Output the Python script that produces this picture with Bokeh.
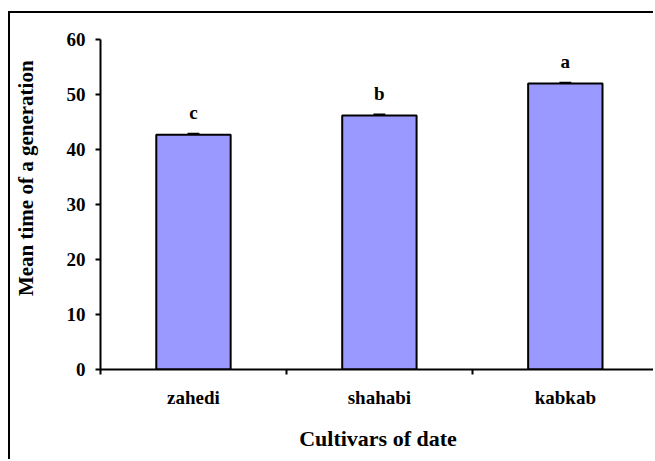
from bokeh.plotting import figure
from bokeh.models import Range1d, FixedTicker, ColumnDataSource, Whisker
from bokeh.core.properties import value
from bokeh.embed import file_html
from bokeh.resources import INLINE

# Mean generation time per date cultivar
cultivars = ["zahedi", "shahabi", "kabkab"]
mean_time = [42.7, 46.2, 52.0]
std_err = [0.15, 0.15, 0.15]
letters = ["c", "b", "a"]
y_ticks = [0, 10, 20, 30, 40, 50, 60]

FONT = "Liberation Serif"
TICK_SIZE = "19px"
TITLE_SIZE = "22px"

xs = [i + 0.5 for i in range(len(cultivars))]
src = ColumnDataSource(dict(
    x=xs,
    top=mean_time,
    upper=[m + s for m, s in zip(mean_time, std_err)],
    lower=[m - s for m, s in zip(mean_time, std_err)],
    letter=letters,
))

p = figure(
    width=645, height=448,
    x_range=Range1d(0, 2.985), y_range=Range1d(0, 60),
    output_backend="svg", toolbar_location=None,
    min_border_left=90, min_border_top=26, min_border_bottom=92, min_border_right=0,
)
p.styles = {"border-left": "2px solid black", "border-top": "2px solid black",
            "margin-left": "8px", "margin-top": "11px"}
p.outline_line_color = None
p.xgrid.visible = False
p.ygrid.visible = False

p.vbar(x="x", top="top", width=0.4, source=src, fill_color="#9999FF",
       line_color="black", line_width=2)

p.add_layout(Whisker(source=src, base="x", upper="upper", lower="lower",
                     line_color="black", line_width=2,
                     upper_head=None, lower_head=None))
p.segment(x0=[x - 0.032 for x in xs], x1=[x + 0.032 for x in xs],
          y0=src.data["upper"], y1=src.data["upper"], line_color="black", line_width=2)

# significance letters above each bar
p.text(x="x", y="upper", text="letter", source=src, text_align="center",
       text_baseline="alphabetic", y_offset=-21, text_font=value(FONT),
       text_font_style="bold", text_font_size=TICK_SIZE, text_color="black")

# x axis: category names centred, tick marks on category boundaries
p.xaxis.ticker = FixedTicker(ticks=xs, minor_ticks=[0, 1, 2, 3])
p.xaxis.major_label_overrides = {x: c for x, c in zip(xs, cultivars)}
p.xaxis.major_tick_out = 0
p.xaxis.major_tick_in = 0
p.xaxis.minor_tick_out = 5
p.xaxis.minor_tick_in = 0
p.xaxis.minor_tick_line_color = "black"
p.xaxis.minor_tick_line_width = 2
p.xaxis.major_label_standoff = 12
p.xaxis.axis_label = "Cultivars of date"
p.xaxis.axis_label_standoff = 15
p.xaxis.axis_label_text_font_size = TITLE_SIZE

p.yaxis.ticker = FixedTicker(ticks=y_ticks)
p.yaxis.major_tick_out = 5
p.yaxis.major_tick_in = 0
p.yaxis.minor_tick_line_color = None
p.yaxis.major_label_standoff = 10
# leading no-break spaces lift the title a little above the axis middle
p.yaxis.axis_label = "\u00a0" * 10 + "Mean time of a generation"
p.yaxis.axis_label_standoff = 26
p.yaxis.axis_label_text_font_size = "21px"

for ax in (p.xaxis, p.yaxis):
    ax.axis_line_color = "black"
    ax.axis_line_width = 2
    ax.major_tick_line_color = "black"
    ax.major_tick_line_width = 2
    ax.major_label_text_font = FONT
    ax.major_label_text_font_style = "bold"
    ax.major_label_text_font_size = TICK_SIZE
    ax.major_label_text_color = "black"
    ax.axis_label_text_font = FONT
    ax.axis_label_text_font_style = "bold"
    ax.axis_label_text_color = "black"

open("out.html", "w").write(file_html(p, INLINE))
